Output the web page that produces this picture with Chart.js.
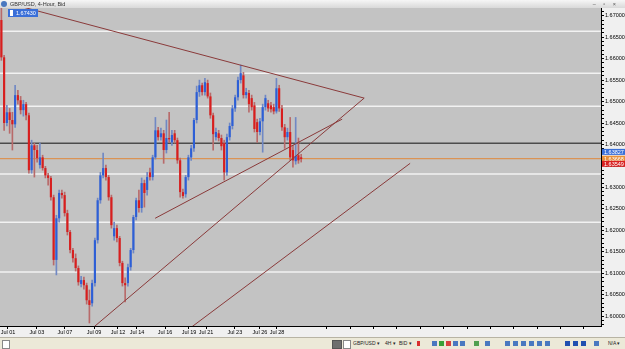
<!DOCTYPE html>
<html>
<head>
<meta charset="utf-8">
<script src="https://cdn.jsdelivr.net/npm/chart.js@4.4.0/dist/chart.umd.min.js"></script>
<style>
  html, body { margin: 0; padding: 0; background: #f0f0f0; }
  #marco { position: relative; width: 625px; height: 349px; overflow: hidden; font-family: "Liberation Sans", Arial, sans-serif; }
  #grafico { position: absolute; left: 0; top: 0; }
  #titulo { position: absolute; left: 0; top: 0; width: 625px; height: 8px; background: linear-gradient(#f6f6f6, #d9d9d9); font-size: 5.5px; line-height: 8px; color: #333; }
  #titulo .icono { position: absolute; left: 1px; top: 1px; width: 6px; height: 6px; border-radius: 3px; background: #4a78c0; }
  #titulo .texto { position: absolute; left: 10px; }
  #titulo .botones { position: absolute; right: 6px; letter-spacing: 3px; color: #555; }
  #maximoEtiqueta { position: absolute; left: 8px; top: 9px; height: 8px; padding: 0 2px 0 8px; background: #3a6fd8; color: #fff; font-size: 5.5px; line-height: 8px; }
  #maximoEtiqueta:before { content: ""; position: absolute; left: 2px; top: 1px; width: 3px; height: 6px; background: #fff; }
  #barra { position: absolute; left: 0; top: 337px; width: 625px; height: 12px; background: #ece9d8; border-top: 1px solid #b8b4a4; font-size: 5px; line-height: 11px; color: #222; }
  #barra .caja { position: absolute; top: 2px; height: 7px; border: 1px solid #888; background: #fff; }
  #barra .txt { position: absolute; top: 0; white-space: nowrap; }
  #barra .ico { position: absolute; top: 3px; width: 5px; height: 5px; }
</style>
</head>
<body>
<div id="marco">
  <canvas id="grafico" width="625" height="349"></canvas>
  <div id="titulo"><span class="icono"></span><span class="texto">GBP/USD, 4-Hour, Bid</span><span class="botones">– ▫ ×</span></div>
  <div id="maximoEtiqueta">1.67430</div>
  <div id="barra">
    <span class="caja" style="left:2px;width:6px;"></span>
    <span class="caja" style="left:332px;width:8px;background:#6e6e6e;border-color:#555;"></span>
    <span class="caja" style="left:343px;width:6px;"></span>
    <span class="txt" style="left:353px;">GBP/USD ▾</span>
    <span class="txt" style="left:385px;">4H ▾</span>
    <span class="txt" style="left:399px;">BID ▾</span>
    <span class="ico" style="left:417px;background:#d83030;width:3px;"></span>
    <span class="ico" style="left:432px;background:#4a78c0;"></span>
    <span class="ico" style="left:439px;background:#38a038;"></span>
    <span class="ico" style="left:446px;background:#d84040;"></span>
    <span class="ico" style="left:453px;background:#4a78c0;"></span>
    <span class="ico" style="left:460px;background:#4a78c0;"></span>
    <span class="ico" style="left:474px;background:#50a050;"></span>
    <span class="ico" style="left:485px;background:#4a78c0;"></span>
    <span class="ico" style="left:505px;background:#4a78c0;"></span>
    <span class="ico" style="left:513px;background:#4a78c0;"></span>
    <span class="ico" style="left:521px;background:#4a78c0;"></span>
    <span class="ico" style="left:529px;background:#4a78c0;"></span>
    <span class="ico" style="left:537px;background:#4a78c0;"></span>
    <span class="ico" style="left:545px;background:#4a78c0;"></span>
    <span class="ico" style="left:565px;background:#2050b0;"></span>
    <span class="ico" style="left:573px;background:#2050b0;"></span>
    <span class="ico" style="left:581px;background:#2050b0;"></span>
    <span class="ico" style="left:594px;background:#4a78c0;"></span>
    <span class="txt" style="left:608px;">N/A ▾</span>
  </div>
</div>
<script>
// Velas de 4 horas GBP/USD (apertura, maximo, minimo, cierre)
const apertura = [
  1.6690, 1.6603, 1.6450, 1.6475, 1.6457, 1.6447, 1.6515, 1.6503, 1.6480, 1.6494,
  1.6468, 1.6340, 1.6398, 1.6387, 1.6352, 1.6370, 1.6345, 1.6328, 1.6322, 1.6277,
  1.6131, 1.6228, 1.6287, 1.6282, 1.6240, 1.6196, 1.6154, 1.6135, 1.6112, 1.6075,
  1.6084, 1.6072, 1.6037, 1.6030, 1.6077, 1.6177, 1.6270, 1.6328, 1.6345, 1.6324,
  1.6277, 1.6186, 1.6205, 1.6182, 1.6124, 1.6077, 1.6077, 1.6114, 1.6154, 1.6231,
  1.6270, 1.6252, 1.6310, 1.6294, 1.6335, 1.6324, 1.6370, 1.6433, 1.6417, 1.6426,
  1.6387, 1.6415, 1.6405, 1.6426, 1.6410, 1.6363, 1.6289, 1.6284, 1.6324, 1.6370,
  1.6391, 1.6457, 1.6522, 1.6538, 1.6522, 1.6543, 1.6512, 1.6468, 1.6417, 1.6426,
  1.6415, 1.6403, 1.6335, 1.6417, 1.6443, 1.6484, 1.6510, 1.6550, 1.6561, 1.6515,
  1.6520, 1.6508, 1.6491, 1.6452, 1.6429, 1.6454, 1.6487, 1.6496, 1.6491, 1.6487,
  1.6477, 1.6531, 1.6484, 1.6440, 1.6417, 1.6429, 1.6387, 1.6361, 1.6375, 1.6370
];
const maximo = [
  1.6743, 1.6608, 1.6491, 1.6484, 1.6475, 1.6538, 1.6526, 1.6512, 1.6503, 1.6498,
  1.6473, 1.6410, 1.6403, 1.6398, 1.6403, 1.6375, 1.6349, 1.6333, 1.6326, 1.6282,
  1.6235, 1.6294, 1.6294, 1.6289, 1.6247, 1.6200, 1.6158, 1.6145, 1.6117, 1.6093,
  1.6091, 1.6077, 1.6061, 1.6084, 1.6182, 1.6275, 1.6335, 1.6380, 1.6352, 1.6328,
  1.6282, 1.6219, 1.6212, 1.6186, 1.6128, 1.6089, 1.6121, 1.6158, 1.6235, 1.6275,
  1.6294, 1.6322, 1.6317, 1.6335, 1.6345, 1.6375, 1.6463, 1.6440, 1.6438, 1.6433,
  1.6457, 1.6475, 1.6433, 1.6433, 1.6415, 1.6368, 1.6296, 1.6328, 1.6375, 1.6398,
  1.6461, 1.6536, 1.6550, 1.6543, 1.6554, 1.6550, 1.6520, 1.6473, 1.6438, 1.6433,
  1.6422, 1.6410, 1.6424, 1.6450, 1.6491, 1.6515, 1.6557, 1.6585, 1.6568, 1.6531,
  1.6526, 1.6515, 1.6498, 1.6459, 1.6461, 1.6494, 1.6515, 1.6503, 1.6498, 1.6494,
  1.6554, 1.6538, 1.6491, 1.6447, 1.6438, 1.6463, 1.6398, 1.6463, 1.6415, 1.6377
];
const minimo = [
  1.6596, 1.6433, 1.6443, 1.6426, 1.6387, 1.6440, 1.6494, 1.6471, 1.6466, 1.6457,
  1.6333, 1.6333, 1.6324, 1.6359, 1.6345, 1.6340, 1.6322, 1.6305, 1.6270, 1.6119,
  1.6096, 1.6219, 1.6275, 1.6233, 1.6189, 1.6147, 1.6126, 1.6105, 1.6072, 1.6068,
  1.6063, 1.6028, 1.5984, 1.6023, 1.6070, 1.6170, 1.6263, 1.6322, 1.6317, 1.6270,
  1.6205, 1.6177, 1.6173, 1.6117, 1.6070, 1.6033, 1.6070, 1.6107, 1.6147, 1.6224,
  1.6242, 1.6242, 1.6254, 1.6282, 1.6317, 1.6317, 1.6366, 1.6410, 1.6410, 1.6356,
  1.6380, 1.6405, 1.6398, 1.6403, 1.6356, 1.6277, 1.6275, 1.6277, 1.6317, 1.6363,
  1.6384, 1.6450, 1.6512, 1.6515, 1.6515, 1.6508, 1.6461, 1.6387, 1.6410, 1.6408,
  1.6387, 1.6317, 1.6328, 1.6410, 1.6436, 1.6477, 1.6503, 1.6543, 1.6508, 1.6508,
  1.6475, 1.6480, 1.6429, 1.6405, 1.6422, 1.6382, 1.6480, 1.6477, 1.6475, 1.6471,
  1.6473, 1.6477, 1.6433, 1.6391, 1.6410, 1.6363, 1.6347, 1.6354, 1.6356, 1.6359
];
const cierre = [
  1.6603, 1.6450, 1.6475, 1.6457, 1.6447, 1.6515, 1.6503, 1.6480, 1.6494, 1.6468,
  1.6340, 1.6398, 1.6387, 1.6368, 1.6370, 1.6345, 1.6328, 1.6322, 1.6277, 1.6131,
  1.6228, 1.6287, 1.6282, 1.6240, 1.6196, 1.6154, 1.6135, 1.6112, 1.6079, 1.6084,
  1.6072, 1.6037, 1.6026, 1.6077, 1.6177, 1.6270, 1.6328, 1.6345, 1.6324, 1.6277,
  1.6212, 1.6205, 1.6182, 1.6124, 1.6077, 1.6072, 1.6114, 1.6154, 1.6231, 1.6270,
  1.6252, 1.6310, 1.6287, 1.6324, 1.6324, 1.6370, 1.6433, 1.6417, 1.6426, 1.6387,
  1.6415, 1.6412, 1.6422, 1.6410, 1.6363, 1.6289, 1.6280, 1.6324, 1.6370, 1.6391,
  1.6457, 1.6522, 1.6538, 1.6522, 1.6545, 1.6512, 1.6468, 1.6424, 1.6429, 1.6415,
  1.6396, 1.6335, 1.6417, 1.6443, 1.6484, 1.6510, 1.6550, 1.6566, 1.6515, 1.6522,
  1.6494, 1.6487, 1.6436, 1.6429, 1.6454, 1.6487, 1.6508, 1.6484, 1.6482, 1.6477,
  1.6531, 1.6484, 1.6440, 1.6417, 1.6429, 1.6370, 1.6363, 1.6373, 1.6363, 1.6366
];

// Etiquetas del eje X y la vela donde cae cada una
const etiquetasFecha = ['Jul 01', 'Jul 03', 'Jul 07', 'Jul 09', 'Jul 12', 'Jul 14', 'Jul 16', 'Jul 19', 'Jul 21', 'Jul 23', 'Jul 26', 'Jul 28'];
const velaFecha = [2.4, 12.9, 23.1, 33.7, 42.4, 49.3, 59.5, 68.2, 74.4, 84.9, 94.0, 100.2];

// Lineas horizontales dibujadas por el usuario
const nivelesBlancos = [1.6664, 1.6566, 1.6489, 1.6331, 1.6219, 1.6103];
const nivelNegro = 1.6403;
const precioBid = 1.63668;

// Lineas de tendencia: [vela inicio, precio inicio, vela fin, precio fin]
const tendencias = [
  [6.8, 1.6722, 131.9, 1.6508],
  [55.9, 1.6228, 123.9, 1.6459],
  [32.2, 1.5967, 131.9, 1.6508],
  [68.6, 1.5972, 148.6, 1.6356]
];

// Etiquetas de precio en el eje derecho
const etiquetasPrecio = [1.63827, 1.63668, 1.63549];
const coloresPrecio = ['#3a6fd8', '#e8903a', '#d82020'];

const X_MIN = -0.5;
const X_MAX = 218;
const AZUL = '#2d5fd6';
const ROJO = '#d81e1e';

const sube = cierre.map((c, i) => c >= apertura[i]);

// Fondo gris del area del grafico
const fondo = {
    id: 'fondo',
    beforeDraw(chart) {
        const { ctx, chartArea } = chart;
        ctx.save();
        ctx.fillStyle = '#f0f0f0';
        ctx.fillRect(0, 0, chart.width, chart.height);
        ctx.fillStyle = '#c3c3c3';
        ctx.fillRect(chartArea.left, chartArea.top, chartArea.right - chartArea.left, chartArea.bottom - chartArea.top);
        ctx.restore();
    }
};

// Cajitas de precio sobre el eje Y
const cajasPrecio = {
    id: 'cajasPrecio',
    afterDraw(chart) {
        const { ctx, scales } = chart;
        ctx.save();
        ctx.font = '5.5px "Liberation Sans", Arial';
        ctx.textBaseline = 'middle';
        etiquetasPrecio.forEach((p, i) => {
            const y = scales.y.getPixelForValue(p);
            ctx.fillStyle = coloresPrecio[i];
            ctx.fillRect(602, y - 3, 23, 6);
            ctx.fillStyle = '#fff';
            ctx.fillText(p.toFixed(5), 604, y + 0.3);
        });
        ctx.restore();
    }
};

const lineaHorizontal = (precio, color, ancho) => ({
    type: 'line',
    data: [{ x: X_MIN, y: precio }, { x: X_MAX, y: precio }],
    borderColor: color,
    borderWidth: ancho,
    pointRadius: 0,
    order: 5
});

const datasets = [
    ...nivelesBlancos.map(p => lineaHorizontal(p, '#f2f2f2', 1.5)),
    lineaHorizontal(nivelNegro, '#111', 1),
    lineaHorizontal(precioBid, '#e0883a', 1),
    {
        // Mechas
        data: cierre.map((c, i) => ({ x: i, y: [minimo[i], maximo[i]] })),
        backgroundColor: sube.map(s => s ? '#7088c4' : '#b86a6a'),
        barThickness: 1,
        grouped: false,
        order: 3
    },
    {
        // Cuerpos
        data: cierre.map((c, i) => ({ x: i, y: [apertura[i], c] })),
        backgroundColor: sube.map(s => s ? AZUL : ROJO),
        barPercentage: 0.78,
        categoryPercentage: 1,
        minBarLength: 1,
        grouped: false,
        order: 2
    },
    ...tendencias.map(t => ({
        type: 'line',
        data: [{ x: t[0], y: t[1] }, { x: t[2], y: t[3] }],
        borderColor: '#8a3a3a',
        borderWidth: 1,
        pointRadius: 0,
        order: 0
    }))
];

new Chart(document.getElementById('grafico'), {
    type: 'bar',
    data: { datasets: datasets },
    options: {
        responsive: false,
        animation: false,
        layout: { padding: { top: 8, bottom: 12, left: 0, right: 0 } },
        plugins: { legend: { display: false }, tooltip: { enabled: false } },
        scales: {
            x: {
                type: 'linear',
                min: X_MIN,
                max: X_MAX,
                offset: false,
                afterFit: (s) => { s.height = 11; },
                afterBuildTicks: (s) => {
                    const marcas = velaFecha.map(v => ({ value: v }));
                    for (let v = 118.3; v < X_MAX; v += 8.5) marcas.push({ value: v });
                    s.ticks = marcas;
                },
                ticks: {
                    autoSkip: false,
                    maxRotation: 0,
                    padding: 0,
                    color: '#000',
                    font: { size: 5.5, family: '"Liberation Sans", Arial' },
                    callback: (v) => {
                        const k = velaFecha.indexOf(v);
                        return k >= 0 ? etiquetasFecha[k] : '';
                    }
                },
                grid: { drawOnChartArea: false, offset: false, tickLength: 3, color: '#000' },
                border: { color: '#000', width: 1 }
            },
            y: {
                position: 'right',
                min: 1.5977,
                max: 1.6718,
                afterFit: (s) => { s.width = 24; },
                afterBuildTicks: (s) => {
                    const marcas = [];
                    for (let k = 1598; k <= 1671; k++) marcas.push({ value: k / 1000 });
                    s.ticks = marcas;
                },
                ticks: {
                    autoSkip: false,
                    padding: 1,
                    color: '#000',
                    font: { size: 5.5, family: '"Liberation Sans", Arial' },
                    callback: (v) => Math.round(v * 1000) % 5 === 0 ? v.toFixed(5) : ''
                },
                grid: { drawOnChartArea: false, tickLength: 3, color: '#000' },
                border: { color: '#000', width: 1 }
            }
        }
    },
    plugins: [fondo, cajasPrecio]
});
</script>
</body>
</html>
